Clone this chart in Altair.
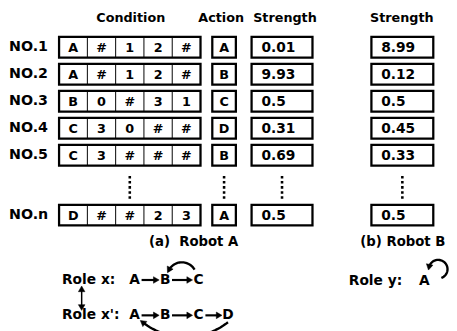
import math
import altair as alt
import pandas as pd

# ---------------- data ----------------
row_labels = ["NO.1", "NO.2", "NO.3", "NO.4", "NO.5", "NO.n"]
conditions = [
    ["A", "#", "1", "2", "#"],
    ["A", "#", "1", "2", "#"],
    ["B", "0", "#", "3", "1"],
    ["C", "3", "0", "#", "#"],
    ["C", "3", "#", "#", "#"],
    ["D", "#", "#", "2", "3"],
]
actions = ["A", "B", "C", "D", "B", "A"]
strength_a = ["0.01", "9.93", "0.5", "0.31", "0.69", "0.5"]
strength_b = ["8.99", "0.12", "0.5", "0.45", "0.33", "0.5"]
headers = ["Condition", "Action", "Strength", "Strength"]
captions = ["(a)\u00a0\u00a0Robot A", "(b) Robot B"]
role_names = ["Role x:", "Role x':", "Role y:"]
role_x = ["A", "B", "C"]
role_x2 = ["A", "B", "C", "D"]
role_y = ["A"]

# ---------------- layout ----------------
FONT = "DejaVu Sans"
W, H = 449, 323
XS = alt.Scale(domain=[8, 8 + W], nice=False, zero=False)
YS = alt.Scale(domain=[8, 8 + H], nice=False, zero=False, reverse=True)

ROW_Y0, ROW_PITCH, ROW_LAST = 45, 27.5, 216
BOX_H = 21
COND_X0, CELL_W = 60, 28.8
ACT = (216, 240)
STA = (256, 318)
STB = (378, 441)
HEAD_Y = 15
HEAD_X = [133, 225, 290, 409]
CAP_Y = 243
CAP_X = [197, 410]
DOT_Y = (176, 202)


def row_y(i):
    return ROW_LAST if i == len(row_labels) - 1 else ROW_Y0 + ROW_PITCH * i


X = lambda f="x": alt.X(f"{f}:Q", scale=XS, axis=None)
Y = lambda f="y": alt.Y(f"{f}:Q", scale=YS, axis=None)


def text_layer(df, size=12, align="center", weight="bold"):
    return alt.Chart(df).mark_text(
        font=FONT, fontSize=size, fontWeight=weight, align=align,
        baseline="middle", color="black"
    ).encode(x=X(), y=Y(), text="t:N")


layers = []

# headers
layers.append(text_layer(pd.DataFrame({"t": headers, "x": HEAD_X, "y": [HEAD_Y] * 4}), size=13))

# row labels
layers.append(text_layer(pd.DataFrame({"t": row_labels, "x": [9] * 6,
                                       "y": [row_y(i) for i in range(6)]}), size=14.5, align="left"))

# boxes
boxes = []
for i in range(6):
    y = row_y(i)
    for (a, b) in [(COND_X0, COND_X0 + 5 * CELL_W), ACT, STA, STB]:
        boxes.append({"x": a, "x2": b, "y": y - BOX_H / 2, "y2": y + BOX_H / 2})
layers.append(alt.Chart(pd.DataFrame(boxes)).mark_rect(
    fillOpacity=0, stroke="black", strokeWidth=2.3
).encode(x=X(), x2="x2:Q", y=Y(), y2="y2:Q"))

# cell dividers
divs = []
for i in range(6):
    y = row_y(i)
    for k in range(1, 5):
        divs.append({"x": COND_X0 + k * CELL_W, "y": y - BOX_H / 2, "y2": y + BOX_H / 2})
layers.append(alt.Chart(pd.DataFrame(divs)).mark_rule(
    stroke="black", strokeWidth=1
).encode(x=X(), y=Y(), y2="y2:Q"))

# cell text
cells = []
for i, row in enumerate(conditions):
    for k, c in enumerate(row):
        cells.append({"t": c, "x": COND_X0 + (k + 0.5) * CELL_W, "y": row_y(i) + 0.5})
for i, a in enumerate(actions):
    cells.append({"t": a, "x": (ACT[0] + ACT[1]) / 2, "y": row_y(i) + 0.5})
layers.append(text_layer(pd.DataFrame(cells), size=13))

vals = []
for i, s in enumerate(strength_a):
    vals.append({"t": s, "x": STA[0] + 10, "y": row_y(i) + 0.5})
for i, s in enumerate(strength_b):
    vals.append({"t": s, "x": STB[0] + 10, "y": row_y(i) + 0.5})
layers.append(text_layer(pd.DataFrame(vals), size=14, align="left"))

# dotted vertical lines
dots = pd.DataFrame({"x": [COND_X0 + 2.5 * CELL_W, (ACT[0] + ACT[1]) / 2,
                           (STA[0] + STA[1]) / 2, (STB[0] + STB[1]) / 2],
                     "y": [DOT_Y[0]] * 4, "y2": [DOT_Y[1]] * 4})
layers.append(alt.Chart(dots).mark_rule(
    stroke="black", strokeWidth=2.6, strokeDash=[2.6, 2.6]
).encode(x=X(), y=Y(), y2="y2:Q"))

# captions
layers.append(text_layer(pd.DataFrame({"t": captions, "x": CAP_X, "y": [CAP_Y] * 2}), size=13.5))

# roles
ROLE_Y = [282, 318, 283]
layers.append(text_layer(pd.DataFrame({"t": role_names, "x": [63, 63, 355], "y": ROLE_Y}),
                         size=14, align="left"))
LET_X = [137, 168, 202, 232]
letters = []
for k, c in enumerate(role_x):
    letters.append({"t": c, "x": LET_X[k], "y": ROLE_Y[0]})
for k, c in enumerate(role_x2):
    letters.append({"t": c, "x": LET_X[k], "y": ROLE_Y[1]})
for c in role_y:
    letters.append({"t": c, "x": 432, "y": ROLE_Y[2]})
layers.append(text_layer(pd.DataFrame(letters), size=14))

# straight arrows between letters
shafts, heads = [], []
for yy, seq in [(ROLE_Y[0], role_x), (ROLE_Y[1], role_x2)]:
    for k in range(len(seq) - 1):
        x0, x1 = LET_X[k] + 7, LET_X[k + 1] - 6
        shafts.append({"x": x0, "x2": x1 - 4, "y": yy})
        heads.append({"x": x1 - 3, "y": yy, "a": 90})
# double vertical arrow
shafts_v = pd.DataFrame({"x": [83], "y": [292], "y2": [309]})
heads.append({"x": 83, "y": 291, "a": 0})
heads.append({"x": 83, "y": 310, "a": 180})

layers.append(alt.Chart(pd.DataFrame(shafts)).mark_rule(stroke="black", strokeWidth=2.2)
              .encode(x=X(), x2="x2:Q", y=Y()))
layers.append(alt.Chart(shafts_v).mark_rule(stroke="black", strokeWidth=1.5)
              .encode(x=X(), y=Y(), y2="y2:Q"))


# curved arrows
def arc(name, cx, cy, r, t0, t1, n=30):
    pts = []
    for j in range(n + 1):
        t = math.radians(t0 + (t1 - t0) * j / n)
        pts.append({"arc": name, "i": j, "x": cx + r * math.cos(t), "y": cy - r * math.sin(t)})
    t = math.radians(t1)
    s = 1 if t1 > t0 else -1
    dx, dy = -r * math.sin(t) * s, -r * math.cos(t) * s
    ang = math.degrees(math.atan2(dx, -dy)) % 360
    return pts, {"x": pts[-1]["x"], "y": pts[-1]["y"], "a": ang}


arc_pts = []
p, h = arc("x", 185, 279, 15, 30, 152)
arc_pts += p; heads.append(h)
p, h = arc("x2", 188.5, 269.4, 70.6, -52, -128)
arc_pts += p; heads.append(h)
p, h = arc("y", 446, 271, 9.5, -70, 168)
arc_pts += p; heads.append(h)

layers.append(alt.Chart(pd.DataFrame(arc_pts)).mark_line(
    stroke="black", strokeWidth=2.4
).encode(x=X(), y=Y(), detail="arc:N", order="i:Q"))

layers.append(alt.Chart(pd.DataFrame(heads)).mark_point(
    shape="triangle-up", filled=True, fill="black", stroke="black", strokeWidth=0.5,
    size=45, opacity=1
).encode(x=X(), y=Y(), angle=alt.Angle("a:Q", scale=None)))

chart = alt.layer(*layers).properties(
    width=W, height=H, autosize=alt.AutoSizeParams(type="none"), padding=0,
    background="white"
).configure_view(strokeWidth=0)

chart.save("out.html", embed_options={"renderer": "svg", "actions": False})
